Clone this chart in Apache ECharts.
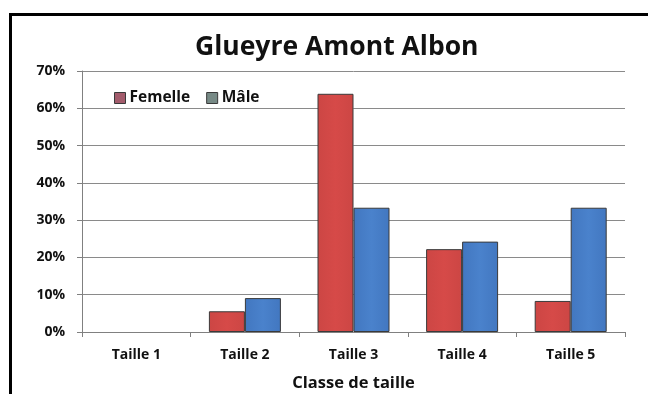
<!DOCTYPE html>
<html>
<head>
<meta charset="utf-8">
<script src="https://cdn.jsdelivr.net/npm/echarts@6/dist/echarts.min.js"></script>
<style>
  html, body { margin: 0; padding: 0; background: #ffffff; }
  #chart { width: 648px; height: 394px; }
</style>
</head>
<body>
<div id="chart"></div>
<script>
// Répartition par classe de taille (proportion de chaque sexe)
const categories = ['Taille 1', 'Taille 2', 'Taille 3', 'Taille 4', 'Taille 5'];
const femelle = [0, 5.56, 63.89, 22.22, 8.33];
const male = [0, 9.09, 33.33, 24.24, 33.33];
const yTicks = [0, 10, 20, 30, 40, 50, 60, 70];

const FONT = '"Open Sans", "DejaVu Sans", sans-serif';

function barGradient(edge, mid) {
  return new echarts.graphic.LinearGradient(0, 0, 1, 0, [
    { offset: 0, color: edge },
    { offset: 0.5, color: mid },
    { offset: 1, color: edge }
  ]);
}

// Empty classes get no outline, so nothing is drawn on the axis for them
function barData(values) {
  return values.map(v => v === 0 ? { value: v, itemStyle: { borderWidth: 0 } } : v);
}

const chart = echarts.init(document.getElementById('chart'), null, { renderer: 'canvas' });

chart.setOption({
  backgroundColor: '#ffffff',
  animation: false,
  title: {
    text: 'Glueyre Amont Albon',
    left: 190,
    top: 29,
    textStyle: { fontFamily: FONT, fontWeight: 'bold', fontSize: 26.5, color: '#111111' }
  },
  legend: {
    left: 109,
    top: 85,
    itemWidth: 11,
    itemHeight: 11,
    itemGap: 16,
    icon: 'rect',
    textStyle: { fontFamily: FONT, fontWeight: 'bold', fontSize: 15.5, color: '#111111', padding: [0, 0, 0, -1] },
    data: [
      { name: 'Femelle', itemStyle: { color: '#a35c6c', borderColor: '#3a3a3a', borderWidth: 1 } },
      { name: 'Mâle', itemStyle: { color: '#778a86', borderColor: '#3a3a3a', borderWidth: 1 } }
    ]
  },
  grid: { left: 82, right: 23, top: 71, bottom: 62, containLabel: false, outerBoundsMode: 'none' },
  xAxis: {
    type: 'category',
    data: categories,
    name: 'Classe de taille',
    nameLocation: 'middle',
    nameGap: 43,
    nameTextStyle: { fontFamily: FONT, fontWeight: 'bold', fontSize: 16.5, color: '#111111' },
    axisLine: { lineStyle: { color: '#808080', width: 1 } },
    axisTick: { show: true, length: 5, lineStyle: { color: '#808080' } },
    axisLabel: { fontFamily: FONT, fontWeight: 'bold', fontSize: 14, color: '#111111', margin: 16 }
  },
  yAxis: {
    type: 'value',
    min: yTicks[0],
    max: yTicks[yTicks.length - 1],
    interval: 10,
    axisLine: { show: true, lineStyle: { color: '#808080', width: 1 } },
    axisTick: { show: true, length: 5, lineStyle: { color: '#808080' } },
    axisLabel: {
      fontFamily: FONT, fontWeight: 'bold', fontSize: 14, color: '#111111', margin: 17,
      formatter: v => v + '%'
    },
    splitLine: { show: true, lineStyle: { color: '#8a8a8a', width: 1 } }
  },
  series: [
    {
      name: 'Femelle',
      type: 'bar',
      data: barData(femelle),
      barWidth: 36,
      barGap: '0%',
      itemStyle: { color: barGradient('#cc4644', '#d64a48'), borderColor: '#3a3a3a', borderWidth: 1 }
    },
    {
      name: 'Mâle',
      type: 'bar',
      data: barData(male),
      barWidth: 36,
      barGap: '0%',
      itemStyle: { color: barGradient('#4277c0', '#4a82cc'), borderColor: '#3a3a3a', borderWidth: 1 }
    }
  ],
  graphic: [
    {
      type: 'rect',
      shape: { x: 10.5, y: 14.5, width: 660, height: 400 },
      style: { fill: null, stroke: '#000000', lineWidth: 3 },
      silent: true,
      z: 100
    }
  ]
});
</script>
</body>
</html>
